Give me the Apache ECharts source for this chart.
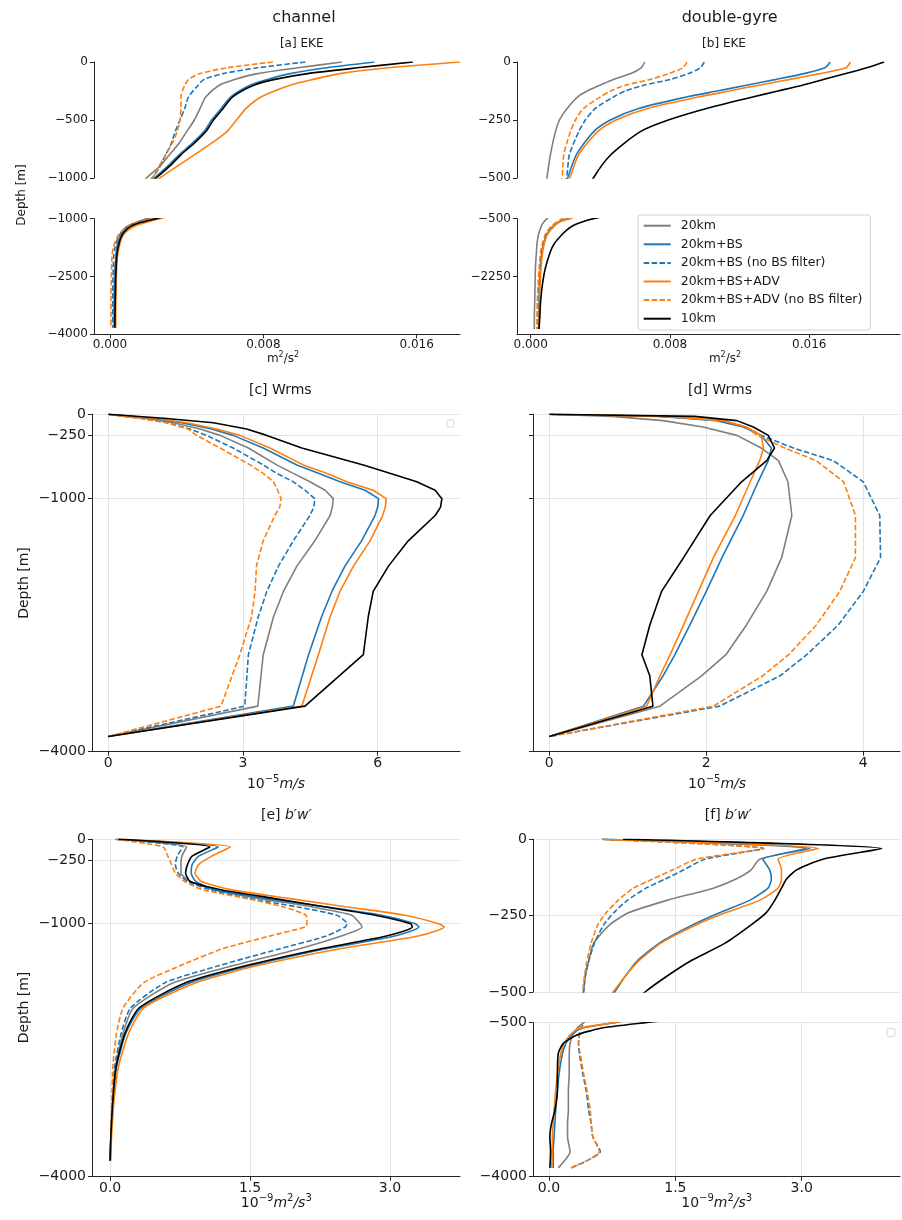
<!DOCTYPE html>
<html><head><meta charset="utf-8">
<script src="https://cdn.jsdelivr.net/npm/echarts@6/dist/echarts.min.js"></script>
<style>html,body{margin:0;padding:0;background:#fff}#main{width:902px;height:1220px}</style>
</head><body><div id="main"></div>
<script>
// ---------------- DATA ----------------
const seriesNames = ['20km','20km+BS','20km+BS (no BS filter)','20km+BS+ADV','20km+BS+ADV (no BS filter)','10km'];

// [a] channel EKE, m^2/s^2
const aDepth = [0,-50,-100,-150,-200,-300,-400,-500,-600,-700,-800,-900,-1000,-1100,-1200,-1350,-1500,-1750,-2000,-2500,-3000,-3500,-3830];
const aGray = [0.0121,0.0098,0.0077,0.0065,0.0057,0.0050,0.0047,0.0044,0.0040,0.0036,0.0031,0.0026,0.0019,0.00134,0.0009,0.00061,0.00047,0.00035,0.0003,0.00024,0.00021,0.00021,0.00021];
const aBlue = [0.0138,0.0113,0.0094,0.0082,0.0073,0.0063,0.0058,0.0053,0.0049,0.0043,0.0036,0.0030,0.0023,0.0015,0.0010,0.00068,0.00052,0.00038,0.00031,0.00026,0.00024,0.00023,0.00023];
const aBlueNoFilter = [0.0102,0.0077,0.0059,0.0049,0.0046,0.0041,0.0039,0.00365,0.0034,0.0032,0.0029,0.0026,0.0022,0.00143,0.0009,0.00059,0.00042,0.00026,0.00019,0.00016,0.00014,0.00014,0.00014];
const aOrange = [0.01825,0.0145,0.0120,0.0106,0.0094,0.0079,0.0071,0.0066,0.0061,0.0053,0.0044,0.0035,0.0026,0.00186,0.00125,0.00082,0.00061,0.00047,0.00038,0.00033,0.00031,0.0003,0.0003];
const aOrangeNoFilter = [0.0085,0.0061,0.0047,0.0041,0.0039,0.0037,0.0037,0.00365,0.0035,0.00325,0.0029,0.00255,0.0022,0.00143,0.0009,0.00056,0.00035,0.00017,0.0001,0.00007,0.00005,0.00005,0.00005];
const aBlack = [0.0158,0.0129,0.0103,0.0086,0.0075,0.0064,0.0059,0.0054,0.0050,0.0044,0.0037,0.0031,0.0024,0.0016,0.00108,0.00073,0.00056,0.00042,0.00035,0.0003,0.00028,0.00026,0.00026];

// [b] double-gyre EKE, m^2/s^2
const bDepth = [0,-25,-50,-75,-100,-125,-150,-200,-250,-300,-400,-500,-600,-700,-850,-1000,-1250,-1500,-2000,-2500,-3000,-3500,-3840];
const bGray = [0.00655,0.00634,0.00575,0.00475,0.00398,0.00325,0.0027,0.00209,0.00165,0.00142,0.00113,0.00093,0.00075,0.00063,0.00052,0.00044,0.00036,0.00033,0.00027,0.00025,0.00023,0.00021,0.00021];
const bBlue = [0.0172,0.0169,0.0157,0.0141,0.0124,0.0107,0.0090,0.0062,0.00457,0.00362,0.00262,0.00212,0.0016,0.00136,0.00109,0.0009,0.00075,0.00065,0.00056,0.0005,0.00048,0.00046,0.00046];
const bBlueNoFilter = [0.00997,0.00974,0.00907,0.00802,0.00649,0.00544,0.00477,0.00371,0.00314,0.00276,0.00222,0.00205,0.00155,0.00128,0.00103,0.00086,0.00071,0.00061,0.00052,0.00046,0.00042,0.0004,0.0004];
const bOrange = [0.01836,0.0181,0.0166,0.0149,0.0131,0.0114,0.0097,0.0067,0.0049,0.00385,0.00275,0.00225,0.00167,0.0014,0.00113,0.00094,0.00078,0.00069,0.00059,0.00054,0.0005,0.00048,0.00048];
const bOrangeNoFilter = [0.00898,0.00875,0.00792,0.00687,0.00544,0.00458,0.004,0.00304,0.00257,0.00228,0.0019,0.0018,0.0015,0.00124,0.00099,0.00082,0.00067,0.00057,0.00048,0.00042,0.00038,0.00036,0.00036];
const bBlack = [0.0203,0.0193,0.0181,0.0168,0.0156,0.0142,0.0128,0.0101,0.0079,0.0063,0.0046,0.0036,0.00295,0.00247,0.00205,0.00176,0.00136,0.00113,0.00084,0.00067,0.00057,0.00052,0.00048];

// [c] channel Wrms, 1e-5 m/s
const cDepth = [0,-50,-100,-175,-250,-400,-600,-700,-800,-900,-1000,-1100,-1200,-1500,-1800,-2100,-2400,-2850,-3460,-3820];
const cGray = [0,0.85,1.45,2.04,2.49,3.12,3.75,4.12,4.49,4.83,5.01,4.99,4.94,4.6,4.2,3.9,3.68,3.45,3.33,0];
const cBlue = [0,1.0,1.63,2.3,2.78,3.45,4.2,4.68,5.16,5.72,6.02,6.0,5.94,5.64,5.27,4.98,4.75,4.46,4.12,0];
const cBlueNoFilter = [0,0.78,1.3,1.82,2.19,2.78,3.45,3.75,4.12,4.38,4.6,4.58,4.49,4.12,3.79,3.53,3.34,3.12,3.04,0];
const cOrange = [0,1.08,1.75,2.41,2.93,3.6,4.34,4.86,5.31,5.9,6.19,6.17,6.11,5.83,5.46,5.16,4.94,4.68,4.31,0];
const cOrangeNoFilter = [0,0.7,1.3,1.78,1.97,2.49,3.16,3.45,3.68,3.77,3.85,3.82,3.71,3.45,3.3,3.27,3.19,2.93,2.51,0];
const cBlack = [0,1.3,2.34,3.08,3.53,4.31,5.68,6.27,6.87,7.28,7.43,7.40,7.28,6.68,6.24,5.9,5.79,5.68,4.38,0];

// [d] double-gyre Wrms, 1e-5 m/s
const dDepth = [0,-25,-75,-150,-250,-400,-550,-800,-1200,-1700,-2100,-2500,-2850,-3100,-3460,-3820];
const dGray = [0,0.8,1.45,1.96,2.39,2.7,2.92,3.04,3.09,2.96,2.77,2.51,2.25,1.94,1.41,0];
const dBlue = [0,1.4,2.13,2.47,2.7,2.83,2.79,2.66,2.47,2.2,2.0,1.79,1.6,1.45,1.2,0];
const dBlueNoFilter = [0,1.45,2.2,2.5,2.7,3.11,3.62,4.0,4.21,4.22,4.0,3.68,3.28,2.94,2.17,0];
const dOrange = [0,1.5,2.22,2.51,2.7,2.73,2.68,2.56,2.37,2.09,1.9,1.71,1.54,1.41,1.24,0];
const dOrangeNoFilter = [0,1.45,2.22,2.5,2.65,3.0,3.4,3.75,3.9,3.9,3.7,3.4,3.05,2.72,2.09,0];
const dBlack = [0,1.85,2.39,2.6,2.79,2.87,2.77,2.45,2.05,1.71,1.43,1.28,1.18,1.28,1.32,0];

// [e] channel b'w', 1e-9 m^2/s^3
const eDepth = [0,-90,-200,-300,-400,-500,-600,-700,-800,-900,-1000,-1040,-1150,-1300,-1500,-1700,-2000,-2300,-2700,-3100,-3500,-3810];
const eGray = [0.06,0.82,0.77,0.76,0.76,0.86,1.13,1.59,2.16,2.59,2.68,2.7,2.47,2.02,1.31,0.68,0.25,0.14,0.06,0.03,0.01,0.0];
const eBlue = [0.09,1.16,0.95,0.88,0.87,0.92,1.13,1.66,2.31,2.91,3.27,3.31,3.04,2.3,1.5,0.86,0.33,0.17,0.07,0.035,0.012,0.004];
const eBlueNoFilter = [0.06,0.78,0.72,0.7,0.73,0.83,1.08,1.48,2.0,2.43,2.54,2.52,2.31,1.81,1.16,0.59,0.22,0.12,0.05,0.025,0.01,0.0];
const eOrange = [0.06,1.29,1.09,0.95,0.91,0.98,1.31,1.91,2.52,3.16,3.52,3.58,3.29,2.45,1.57,0.92,0.36,0.2,0.09,0.043,0.018,0.007];
const eOrangeNoFilter = [0.06,0.57,0.62,0.66,0.7,0.8,1.0,1.46,1.85,2.1,2.11,2.09,1.7,1.2,0.75,0.36,0.14,0.07,0.03,0.02,0.01,0.0];
const eBlack = [0.09,1.07,0.88,0.83,0.81,0.86,1.2,1.75,2.29,2.84,3.22,3.24,2.95,2.25,1.45,0.81,0.31,0.16,0.064,0.03,0.01,0.0];

// [f] double-gyre b'w', 1e-9 m^2/s^3
const fDepth = [0,-30,-65,-100,-130,-160,-200,-240,-280,-340,-400,-450,-500,-630,-780,-970,-1200,-1650,-2030,-2490,-2790,-3090,-3430,-3800];
const fGray = [0.63,3.05,2.5,2.4,2.22,1.95,1.4,0.95,0.72,0.53,0.47,0.43,0.41,0.33,0.28,0.25,0.24,0.24,0.23,0.23,0.22,0.22,0.25,0.11];
const fBlue = [0.63,3.1,2.54,2.62,2.64,2.6,2.38,2.03,1.71,1.31,1.04,0.9,0.78,0.38,0.27,0.2,0.16,0.12,0.1,0.08,0.07,0.06,0.05,0.05];
const fBlueNoFilter = [0.63,2.55,1.85,1.6,1.38,1.15,0.93,0.77,0.65,0.54,0.47,0.43,0.41,0.38,0.36,0.35,0.36,0.4,0.44,0.47,0.5,0.52,0.61,0.26];
const fOrange = [0.63,3.2,2.72,2.76,2.76,2.72,2.5,2.1,1.75,1.33,1.06,0.9,0.76,0.35,0.25,0.18,0.14,0.1,0.08,0.06,0.05,0.04,0.04,0.03];
const fOrangeNoFilter = [0.63,2.54,1.75,1.47,1.23,1.0,0.82,0.68,0.58,0.5,0.45,0.42,0.4,0.37,0.36,0.35,0.37,0.41,0.45,0.49,0.5,0.52,0.6,0.26];
const fBlack = [0.88,3.95,3.25,2.94,2.82,2.76,2.68,2.58,2.4,2.09,1.67,1.39,1.14,0.6,0.33,0.17,0.11,0.1,0.1,0.07,0.03,0.01,0.02,0.01];

// tick values
const aXTicks = [0, 0.008, 0.016];
const cXTicks = [0, 3, 6];
const dXTicks = [0, 2, 4];
const efXTicks = [0, 1.5, 3.0];

// ---------------- STYLE / LAYOUT ----------------
const FONT = 'DejaVu Sans';
const TXT = '#1a1a1a';
const AXC = '#262626';
const GRIDC = '#e4e4e4';
const COLORS = ['#7f7f7f', '#1f77b4', '#1f77b4', '#ff7f0e', '#ff7f0e', '#000000'];
const DASHED = [false, false, true, false, true, false];

const panels = [
  { depth: aDepth, vals: [aGray, aBlue, aBlueNoFilter, aOrange, aOrangeNoFilter, aBlack],
    x: [-0.000835, 0.01826], xTicks: aXTicks, dec: 3, fs: 12, grid: false, yLabels: true, smooth: 0.25,
    subs: [ { box: [94, 62, 366, 116], y: [-1000, 0], yTicks: [0, -500, -1000], xShow: false },
            { box: [94, 218.7, 366, 115.6], y: [-4000, -1000], yTicks: [-1000, -2500, -4000], xShow: true } ] },
  { depth: bDepth, vals: [bGray, bBlue, bBlueNoFilter, bOrange, bOrangeNoFilter, bBlack],
    x: [-0.000787, 0.02121], xTicks: aXTicks, dec: 3, fs: 12, grid: false, yLabels: true, smooth: 0.25,
    subs: [ { box: [517, 62, 383, 116], y: [-500, 0], yTicks: [0, -250, -500], xShow: false },
            { box: [517, 218.7, 383, 115.6], y: [-4000, -500], yTicks: [-500, -2250], xShow: true } ] },
  { depth: cDepth, vals: [cGray, cBlue, cBlueNoFilter, cOrange, cOrangeNoFilter, cBlack],
    x: [-0.363, 7.833], xTicks: cXTicks, dec: 0, fs: 14, grid: true, yLabels: true, smooth: false,
    subs: [ { box: [92, 414.3, 368, 337.4], y: [-4000, 0], yTicks: [0, -250, -1000, -4000], xShow: true } ] },
  { depth: dDepth, vals: [dGray, dBlue, dBlueNoFilter, dOrange, dOrangeNoFilter, dBlack],
    x: [-0.2076, 4.468], xTicks: dXTicks, dec: 0, fs: 14, grid: true, yLabels: false, smooth: false,
    subs: [ { box: [533, 414.3, 367, 337.4], y: [-4000, 0], yTicks: [0, -250, -1000, -4000], xShow: true } ] },
  { depth: eDepth, vals: [eGray, eBlue, eBlueNoFilter, eOrange, eOrangeNoFilter, eBlack],
    x: [-0.193, 3.75], xTicks: efXTicks, dec: 1, fs: 14, grid: true, yLabels: true, smooth: 0.2,
    subs: [ { box: [92, 839.3, 368, 337.4], y: [-4000, 0], yTicks: [0, -250, -1000, -4000], xShow: true } ] },
  { depth: fDepth, vals: [fGray, fBlue, fBlueNoFilter, fOrange, fOrangeNoFilter, fBlack],
    x: [-0.19, 4.167], xTicks: efXTicks, dec: 1, fs: 14, grid: true, yLabels: true, smooth: 0.2,
    subs: [ { box: [533, 839.3, 367, 152.7], y: [-500, 0], yTicks: [0, -250, -500], xShow: false },
            { box: [533, 1022.7, 367, 154], y: [-4000, -500], yTicks: [-500, -4000], xShow: true } ] }
];

function fmt(v, dec) {
  const s = Number(v).toFixed(dec);
  return s.replace('-', '\u2212');
}

const grids = [], xAxes = [], yAxes = [], series = [];
panels.forEach(p => {
  p.subs.forEach(sub => {
    const gi = grids.length;
    grids.push({ left: sub.box[0], top: sub.box[1], width: sub.box[2], height: sub.box[3] });
    xAxes.push({
      type: 'value', gridIndex: gi, min: p.x[0], max: p.x[1], position: 'bottom',
      axisLine: { show: sub.xShow, onZero: false, lineStyle: { color: AXC, width: 1 } },
      axisTick: { show: sub.xShow, length: 4, customValues: p.xTicks, lineStyle: { color: AXC, width: 1 } },
      axisLabel: { show: sub.xShow, customValues: p.xTicks, formatter: v => fmt(v, p.dec),
                   fontSize: p.fs, fontFamily: FONT, color: TXT, margin: 5 },
      splitLine: { show: p.grid, lineStyle: { color: GRIDC, width: 1 } }
    });
    yAxes.push({
      type: 'value', gridIndex: gi, min: sub.y[0], max: sub.y[1],
      axisLine: { show: true, onZero: false, lineStyle: { color: AXC, width: 1 } },
      axisTick: { show: true, length: 4, customValues: sub.yTicks, lineStyle: { color: AXC, width: 1 } },
      axisLabel: { show: p.yLabels, customValues: sub.yTicks, formatter: v => fmt(v, 0),
                   fontSize: p.fs, fontFamily: FONT, color: TXT, margin: 6 },
      splitLine: { show: p.grid, lineStyle: { color: GRIDC, width: 1 } }
    });
    p.vals.forEach((vals, k) => {
      series.push({
        type: 'line', name: seriesNames[k], xAxisIndex: gi, yAxisIndex: gi,
        data: vals.map((v, i) => [v, p.depth[i]]),
        symbol: 'none', smooth: p.smooth, clip: true, silent: true, z: 2 + k,
        lineStyle: { color: COLORS[k], width: 1.6, type: DASHED[k] ? [5.5, 2.4] : 'solid' },
        itemStyle: { color: COLORS[k] }
      });
    });
  });
});

// rich mathtext helper
function rich(size) {
  return {
    r: { fontSize: size, fontFamily: FONT, fill: TXT, color: TXT, lineHeight: Math.round(size * 1.35) },
    i: { fontSize: size, fontFamily: FONT, fontStyle: 'italic', fill: TXT, color: TXT, lineHeight: Math.round(size * 1.35) },
    s: { fontSize: Math.round(size * 0.7), fontFamily: FONT, fill: TXT, color: TXT, lineHeight: Math.round(size * 0.75), verticalAlign: 'top' }
  };
}
function txt(x, y, text, size, opt) {
  opt = opt || {};
  return {
    type: 'text', x: x, y: y, rotation: opt.rot || 0, silent: true,
    style: {
      text: text, fontSize: size, fontFamily: FONT, fill: TXT,
      align: 'center', verticalAlign: 'middle', textAlign: 'center', textVerticalAlign: 'middle',
      rich: opt.rich ? rich(size) : undefined
    }
  };
}

const graphics = [
  txt(304, 18, 'channel', 16),
  txt(729.7, 18, 'double-gyre', 16),
  txt(301.7, 44, '[a] EKE', 12),
  txt(724, 44, '[b] EKE', 12),
  txt(280.3, 390.5, '[c] Wrms', 14),
  txt(720, 390.5, '[d] Wrms', 14),
  txt(286.3, 815, '{r|[e] }{i|b\u2032w\u2032}', 14, { rich: true }),
  txt(728.3, 815, '{r|[f] }{i|b\u2032w\u2032}', 14, { rich: true }),
  txt(283, 359, '{r|m}{s|2}{r|/s}{s|2}', 12, { rich: true }),
  txt(725, 359, '{r|m}{s|2}{r|/s}{s|2}', 12, { rich: true }),
  txt(276, 784, '{r|10}{s|\u22125}{i|m/s}', 14, { rich: true }),
  txt(717, 784, '{r|10}{s|\u22125}{i|m/s}', 14, { rich: true }),
  txt(276.3, 1203, '{r|10}{s|\u22129}{i|m}{s|2}{i|/s}{s|3}', 14, { rich: true }),
  txt(716.7, 1203, '{r|10}{s|\u22129}{i|m}{s|2}{i|/s}{s|3}', 14, { rich: true }),
  txt(22, 195, 'Depth [m]', 12, { rot: Math.PI / 2 }),
  txt(24, 583, 'Depth [m]', 14, { rot: Math.PI / 2 }),
  txt(24, 1007.5, 'Depth [m]', 14, { rot: Math.PI / 2 }),
  { type: 'rect', silent: true, shape: { x: 447, y: 420, width: 7, height: 7, r: 1.5 },
    style: { fill: '#fff', stroke: '#d6d6d6', lineWidth: 1 } },
  { type: 'rect', silent: true, shape: { x: 887, y: 1028.5, width: 8, height: 8, r: 1.5 },
    style: { fill: '#fff', stroke: '#d6d6d6', lineWidth: 1 } }
];

const chart = echarts.init(document.getElementById('main'), null, { renderer: 'canvas' });
chart.setOption({
  animation: false,
  backgroundColor: '#ffffff',
  grid: grids, xAxis: xAxes, yAxis: yAxes, series: series,
  legend: {
    data: seriesNames, orient: 'vertical', left: 638, top: 215,
    itemWidth: 27, itemHeight: 14, itemGap: 4.6, padding: [3.7, 8, 4.3, 4.7],
    backgroundColor: 'rgba(255,255,255,0.85)', borderColor: '#d4d4d4', borderWidth: 1, borderRadius: 3,
    selectedMode: false, z: 20,
    itemStyle: { opacity: 0, borderWidth: 0 },
    textStyle: { fontSize: 12.5, fontFamily: FONT, color: TXT, lineHeight: 14, padding: [0, 0, 0, 5] }
  },
  graphic: { elements: graphics }
});
</script></body></html>
